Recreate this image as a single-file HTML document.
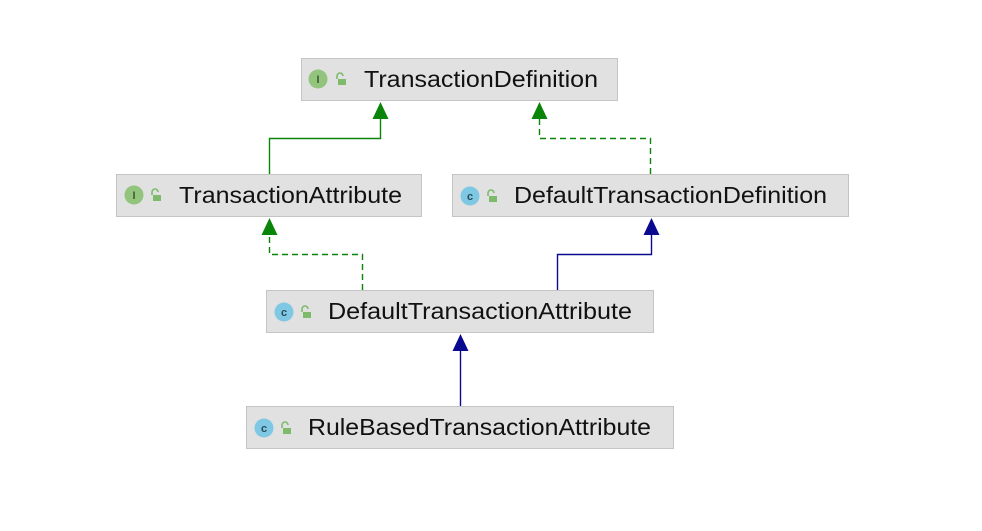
<!DOCTYPE html>
<html><head><meta charset="utf-8"><style>
html,body{margin:0;padding:0;background:#fff;}
svg{display:block;}
text{font-family:"Liberation Sans",sans-serif;}
</style></head><body>
<svg width="982" height="531" xmlns="http://www.w3.org/2000/svg">
<defs>
<g id="lock"><path d="M0 -2 v-3 a3 3 0 0 1 6 0" fill="none" stroke="#7dbb6a" stroke-width="1.6"/><rect x="1" y="-2" width="8" height="6" fill="#7dbb6a"/></g>
</defs>
<g fill="none" stroke-width="1.4">
<path d="M269.5 174 V138.5 H380.5 V118" stroke="#0a850a"/>
<path d="M650.5 174 V138.5 H539.5 V118" stroke="#0a850a" stroke-dasharray="6,4"/>
<path d="M362.5 290 V254.5 H269.5 V234" stroke="#0a850a" stroke-dasharray="6,4"/>
<path d="M557.5 290 V254.5 H651.5 V234" stroke="#0a0a90"/>
<path d="M460.5 406 V350" stroke="#0a0a90"/>
</g>
<polygon points="380.5,102 372.5,119 388.5,119" fill="#0a850a"/>
<polygon points="539.5,102 531.5,119 547.5,119" fill="#0a850a"/>
<polygon points="269.5,218 261.5,235 277.5,235" fill="#0a850a"/>
<polygon points="651.5,218 643.5,235 659.5,235" fill="#0a0a90"/>
<polygon points="460.5,334 452.5,351 468.5,351" fill="#0a0a90"/>
<g fill="#e1e1e1" stroke="#c4c4c4" stroke-width="1">
<rect x="301.5" y="58.5" width="316" height="42"/>
<rect x="116.5" y="174.5" width="305" height="42"/>
<rect x="452.5" y="174.5" width="396" height="42"/>
<rect x="266.5" y="290.5" width="387" height="42"/>
<rect x="246.5" y="406.5" width="427" height="42"/>
</g>
<g font-size="11" font-weight="bold" text-anchor="middle">
<circle cx="318" cy="79" r="9.5" fill="#93c47d"/><text x="318" y="83" fill="#3d5a30" font-family="Liberation Serif">I</text>
<circle cx="134" cy="195" r="9.5" fill="#93c47d"/><text x="134" y="199" fill="#3d5a30" font-family="Liberation Serif">I</text>
<circle cx="470" cy="196" r="9.5" fill="#7ec8e3"/><text x="470" y="200" fill="#2a4a5a">c</text>
<circle cx="284" cy="312" r="9.5" fill="#7ec8e3"/><text x="284" y="316" fill="#2a4a5a">c</text>
<circle cx="264" cy="428" r="9.5" fill="#7ec8e3"/><text x="264" y="432" fill="#2a4a5a">c</text>
</g>
<use href="#lock" x="337" y="81"/>
<use href="#lock" x="152" y="197"/>
<use href="#lock" x="488" y="198"/>
<use href="#lock" x="302" y="314"/>
<use href="#lock" x="282" y="430"/>
<g font-size="23" fill="#111">
<text x="364" y="87" textLength="234" lengthAdjust="spacingAndGlyphs">TransactionDefinition</text>
<text x="179" y="203" textLength="223" lengthAdjust="spacingAndGlyphs">TransactionAttribute</text>
<text x="514" y="203" textLength="313" lengthAdjust="spacingAndGlyphs">DefaultTransactionDefinition</text>
<text x="328" y="319" textLength="304" lengthAdjust="spacingAndGlyphs">DefaultTransactionAttribute</text>
<text x="308" y="435" textLength="343" lengthAdjust="spacingAndGlyphs">RuleBasedTransactionAttribute</text>
</g>
</svg>
</body></html>
